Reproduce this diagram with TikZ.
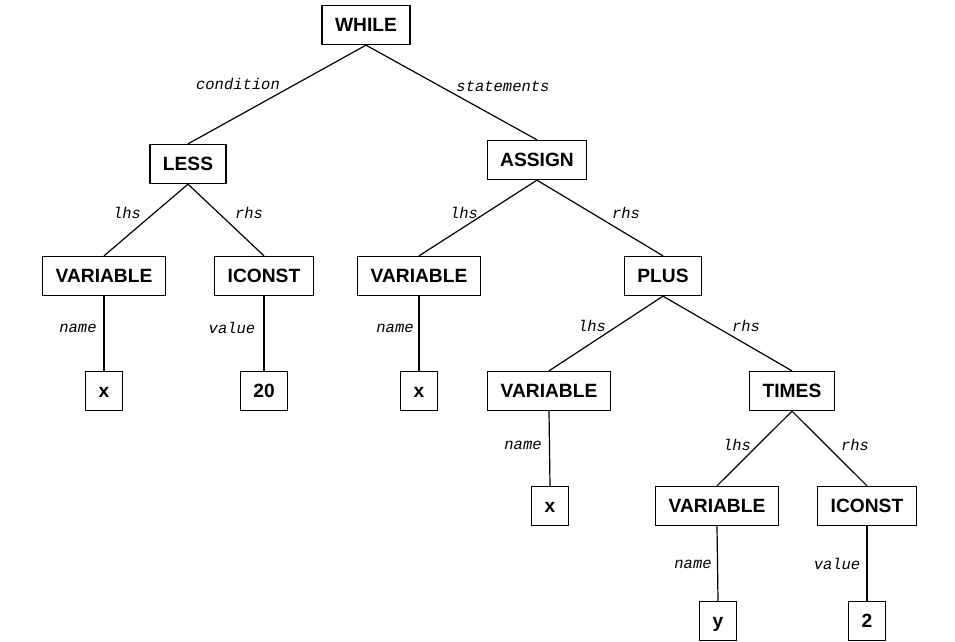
\documentclass[tikz,border=0pt]{standalone}
\usepackage{fontspec}
\setmainfont{Liberation Sans}
\newfontfamily\lblfont{Liberation Mono}
\begin{document}
\begin{tikzpicture}[x=1pt,y=-1pt,
  box/.style={draw,line width=1.3pt,font=\fontsize{19.2}{21}\selectfont\bfseries,inner xsep=13pt,inner ysep=0pt,text height=13.8pt,text depth=0pt,minimum height=39pt,minimum width=36pt},
  lbl/.style={font=\lblfont\itshape\fontsize{15.5}{17}\selectfont,inner sep=0pt},
  edge/.style={line width=1.2pt}]
\useasboundingbox[fill=white] (0,0) rectangle (955,641);
\node[box] (while) at (366,25) {WHILE};
\node[box] (less) at (188,164) {LESS};
\node[box] (assign) at (537,160) {ASSIGN};
\node[box] (var1) at (104,276) {VARIABLE};
\node[box] (ic1) at (264,276) {ICONST};
\node[box] (var2) at (419,276) {VARIABLE};
\node[box] (plus) at (663,276) {PLUS};
\node[box] (x1) at (104,391) {x};
\node[box] (c20) at (264,391) {20};
\node[box] (x2) at (419,391) {x};
\node[box] (var3) at (549,391) {VARIABLE};
\node[box] (times) at (792,391) {TIMES};
\node[box] (x3) at (550,506) {x};
\node[box] (var4) at (717,506) {VARIABLE};
\node[box] (ic2) at (867,506) {ICONST};
\node[box] (y1) at (718,621) {y};
\node[box] (c2) at (867,621) {2};
\foreach \a/\b in {while/less,while/assign,less/var1,less/ic1,assign/var2,assign/plus,var1/x1,ic1/c20,var2/x2,plus/var3,plus/times,var3/x3,times/var4,times/ic2,var4/y1,ic2/c2}
  \draw[edge] (\a.south) -- (\b.north);
\node[lbl] (l1) at (238,84) {condition};
\node[lbl] (l2) at (503,86) {statements};
\node[lbl] (l3) at (127,213) {lhs};
\node[lbl] (l4) at (249,213) {rhs};
\node[lbl] (l5) at (78,328) {name};
\node[lbl] (l6) at (232,328) {value};
\node[lbl] (l7) at (464,213) {lhs};
\node[lbl] (l8) at (626,213) {rhs};
\node[lbl] (l9) at (395,328) {name};
\node[lbl] (l10) at (592,326) {lhs};
\node[lbl] (l11) at (746,326) {rhs};
\node[lbl] (l12) at (523,445) {name};
\node[lbl] (l13) at (737,445) {lhs};
\node[lbl] (l14) at (855,445) {rhs};
\node[lbl] (l15) at (693,564) {name};
\node[lbl] (l16) at (837,564) {value};
\end{tikzpicture}
\end{document}
